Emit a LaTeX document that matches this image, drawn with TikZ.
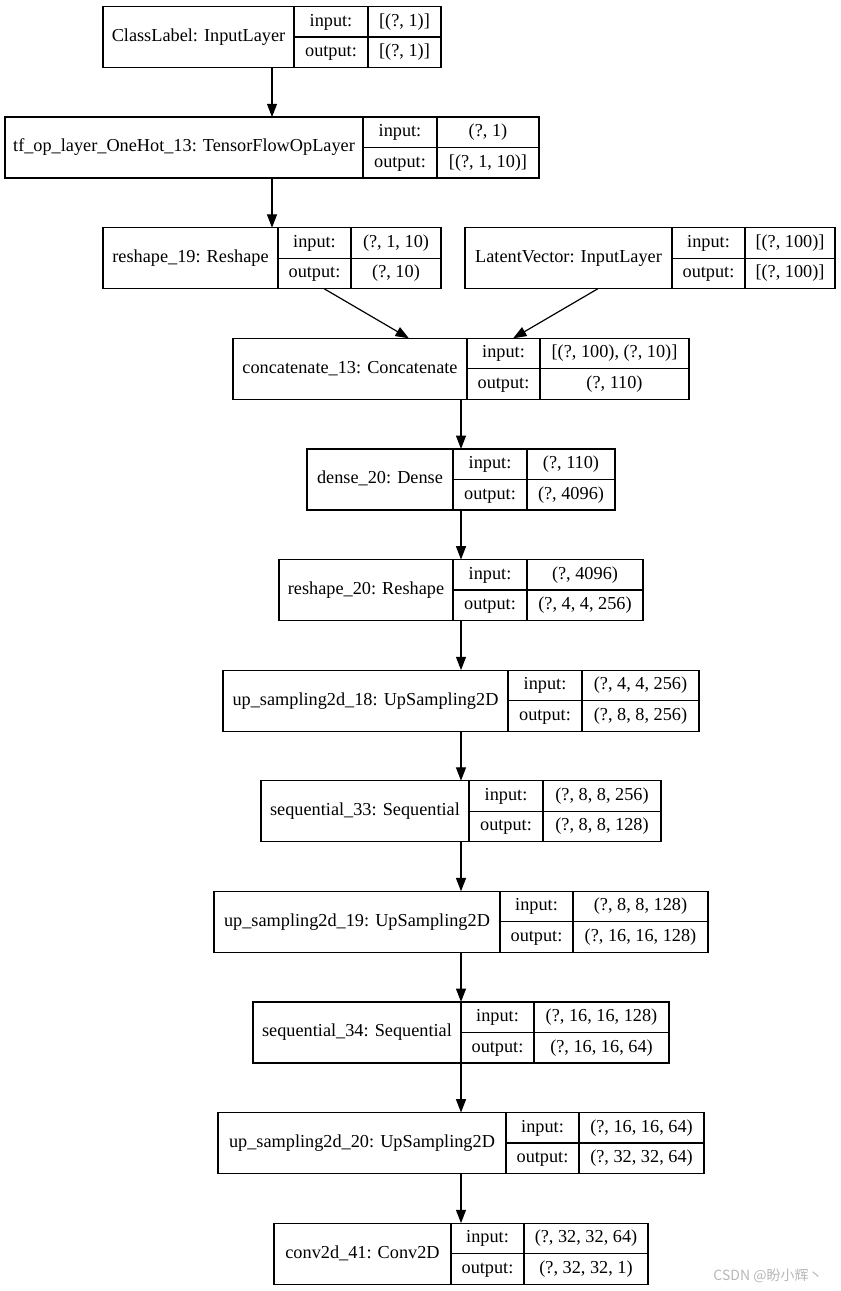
\documentclass[tikz,border=0pt]{standalone}
\usepackage{fontspec}
\setmainfont{Liberation Serif}
\newfontfamily\cjkfont{Noto Sans CJK SC}
\usetikzlibrary{arrows.meta}
\tikzset{
  rec/.style={draw=black, line width=0.9pt, inner sep=0pt, outer sep=0pt, minimum height=45.75pt, fill=white},
  rl/.style={draw=black, line width=0.9pt},
  txt/.style={inner sep=0pt, font=\fontsize{13.7}{16}\selectfont, text height=9.6pt, text depth=3pt},
  arr/.style={draw=black, line width=0.9pt, -{Triangle[length=10pt,width=7.5pt]}},
}
% #1 name, #2 x1, #3 x2, #4 ytop, #5 divider1, #6 divider2, #7 label, #8 input, #9 output
\newcommand\lyr[9]{%
  \node[rec, minimum width={(#3-#2)*0.75pt}] (#1) at ({(#2+#3)/2},{#4+30.5}) {};
  \draw[rl] (#5,#4) -- (#5,{#4+61}) (#6,#4) -- (#6,{#4+61}) (#5,{#4+30.5}) -- (#3,{#4+30.5});
  \node[txt] (#1l) at ({(#2+#5)/2},{#4+30.5}) {#7};
  \node[txt] (#1i) at ({(#5+#6)/2},{#4+15.25}) {input:};
  \node[txt] (#1o) at ({(#5+#6)/2},{#4+45.75}) {output:};
  \node[txt] (#1a) at ({(#6+#3)/2},{#4+15.25}) {#8};
  \node[txt] (#1b) at ({(#6+#3)/2},{#4+45.75}) {#9};
}
\begin{document}
\begin{tikzpicture}[x=0.75pt, y=-0.75pt]
\useasboundingbox[fill=white] (0,0) rectangle (841,1291);
\lyr{b1}{103}{441}{6.5}{294}{368}{ClassLabel: InputLayer}{[(?, 1)]}{[(?, 1)]}
\lyr{b2}{5}{539}{117.1}{363}{437}{tf\_op\_layer\_OneHot\_13: TensorFlowOpLayer}{(?, 1)}{[(?, 1, 10)]}
\lyr{b3}{103}{441}{227.7}{278}{351}{reshape\_19: Reshape}{(?, 1, 10)}{(?, 10)}
\lyr{b4}{465}{835}{227.7}{672}{745}{LatentVector: InputLayer}{[(?, 100)]}{[(?, 100)]}
\lyr{b5}{233}{689}{338.3}{467}{540}{concatenate\_13: Concatenate}{[(?, 100), (?, 10)]}{(?, 110)}
\lyr{b6}{307}{615}{448.9}{453}{527}{dense\_20: Dense}{(?, 110)}{(?, 4096)}
\lyr{b7}{279}{643}{559.5}{453}{527}{reshape\_20: Reshape}{(?, 4096)}{(?, 4, 4, 256)}
\lyr{b8}{223}{699}{670.1}{508}{582}{up\_sampling2d\_18: UpSampling2D}{(?, 4, 4, 256)}{(?, 8, 8, 256)}
\lyr{b9}{261}{661}{780.7}{469}{543}{sequential\_33: Sequential}{(?, 8, 8, 256)}{(?, 8, 8, 128)}
\lyr{b10}{214}{708}{891.3}{500}{573}{up\_sampling2d\_19: UpSampling2D}{(?, 8, 8, 128)}{(?, 16, 16, 128)}
\lyr{b11}{253}{669}{1001.9}{461}{534}{sequential\_34: Sequential}{(?, 16, 16, 128)}{(?, 16, 16, 64)}
\lyr{b12}{218}{704}{1112.5}{506}{579}{up\_sampling2d\_20: UpSampling2D}{(?, 16, 16, 64)}{(?, 32, 32, 64)}
\lyr{b13}{274}{648}{1223.1}{451}{524}{conv2d\_41: Conv2D}{(?, 32, 32, 64)}{(?, 32, 32, 1)}
\draw[arr] (b1) -- (b2);
\draw[arr] (b2) -- (b3);
\draw[arr] (b3) -- (b5);
\draw[arr] (b4) -- (b5);
\draw[arr] (b5) -- (b6);
\draw[arr] (b6) -- (b7);
\draw[arr] (b7) -- (b8);
\draw[arr] (b8) -- (b9);
\draw[arr] (b9) -- (b10);
\draw[arr] (b10) -- (b11);
\draw[arr] (b11) -- (b12);
\draw[arr] (b12) -- (b13);
\node[inner sep=0pt, text=black!28, font=\cjkfont\fontsize{10.5}{12}\selectfont] (wm) at (768,1276) {CSDN @盼小辉丶};
\end{tikzpicture}
\end{document}
